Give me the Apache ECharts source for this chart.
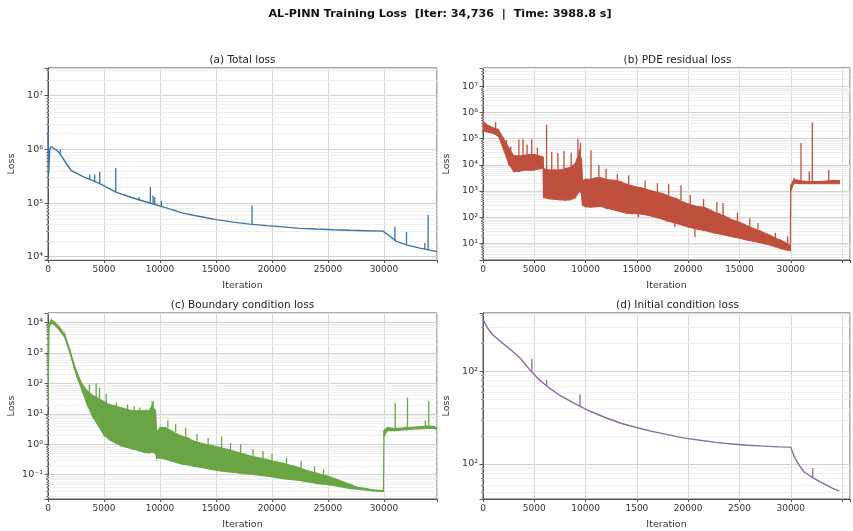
<!DOCTYPE html>
<html><head><meta charset="utf-8">
<script src="https://cdn.jsdelivr.net/npm/echarts@6/dist/echarts.min.js"></script>
<style>html,body{margin:0;padding:0;background:#fff}#c{width:853px;height:531px}</style>
</head><body><div id="c"></div>
<script>
// ---------- (a) Total loss ----------
const totalIter = [0, 60, 150, 300, 500, 800, 1040, 1640, 2090, 3130, 4620, 6110, 7600, 9090, 10570, 12060, 13550, 15040, 16530, 18010, 19500, 20990, 22480, 23960, 25450, 26940, 28430, 29920, 30520, 31110, 32000, 33200, 34736];
const totalLoss = [2.0e6, 3.5e5, 1.0e6, 1.12e6, 1.05e6, 9.5e5, 8.5e5, 5.4e5, 4.0e5, 3.1e5, 2.3e5, 1.58e5, 1.24e5, 1.0e5, 8.1e4, 6.5e4, 5.6e4, 4.9e4, 4.4e4, 4.05e4, 3.8e4, 3.6e4, 3.37e4, 3.27e4, 3.18e4, 3.1e4, 3.05e4, 3.0e4, 2.4e4, 1.93e4, 1.66e4, 1.44e4, 1.24e4];
const totalSpikeIter = [1100, 3720, 4170, 4620, 6050, 6940, 7600, 8130, 9140, 9380, 9530, 10120, 11310, 18220, 30970, 32010, 33650, 33940];
const totalSpikeBase = [8.5e5, 2.8e5, 2.5e5, 2.3e5, 1.6e5, 1.35e5, 1.24e5, 1.12e5, 1.0e5, 9.6e4, 9.4e4, 8.7e4, 7.2e4, 4.0e4, 2.0e4, 1.66e4, 1.38e4, 1.35e4];
const totalSpikePeak = [1.0e6, 3.4e5, 3.4e5, 3.8e5, 4.5e5, 1.45e5, 1.3e5, 1.3e5, 2.0e5, 1.4e5, 1.3e5, 1.1e5, 7.6e4, 9.0e4, 3.6e4, 2.9e4, 1.8e4, 6.0e4];

// ---------- (b) PDE residual loss (noise band: low / high envelope) ----------
const pdeIter = [0, 500, 1000, 1500, 2000, 2500, 3000, 3500, 4000, 4500, 5000, 5500, 5850, 5900, 6500, 7000, 7500, 8000, 8500, 9000, 9400, 9600, 9700, 10000, 10500, 11000, 11500, 12000, 12500, 13000, 13500, 14000, 14500, 15000, 15500, 16000, 16500, 17000, 17500, 18000, 18500, 19000, 19500, 20000, 20500, 21000, 21500, 22000, 22500, 23000, 23500, 24000, 24500, 25000, 25500, 26000, 26500, 27000, 27500, 28000, 28500, 29000, 29500, 29950, 30000, 30300, 31000, 32000, 33000, 34000, 34736];
const pdeLow = [1.9e5, 1.8e5, 1.6e5, 1.26e5, 4.0e4, 1.12e4, 5.6e3, 5.6e3, 6.3e3, 6.3e3, 6.3e3, 7.1e3, 7.4e3, 5.6e2, 5.0e2, 4.8e2, 4.6e2, 4.5e2, 4.6e2, 5.6e2, 1.0e3, 7.9e2, 2.8e2, 2.5e2, 2.4e2, 2.5e2, 2.6e2, 2.2e2, 2.0e2, 1.8e2, 1.6e2, 1.4e2, 1.35e2, 1.35e2, 1.3e2, 1.2e2, 1.07e2, 95, 83, 71, 63, 56, 48, 42, 38, 34, 31, 28, 25, 23, 21, 19, 17, 15.8, 14, 12.6, 11.7, 10.7, 9.5, 8.5, 7.4, 6.3, 5.6, 5.2, 1.0e3, 2.0e3, 1.9e3, 1.9e3, 1.9e3, 1.9e3, 1.9e3];
const pdeHigh = [4.5e5, 3.2e5, 2.6e5, 2.2e5, 1.0e5, 4.5e4, 2.2e4, 2.2e4, 2.3e4, 2.5e4, 2.5e4, 2.2e4, 2.0e4, 7.1e3, 6.3e3, 6.3e3, 6.3e3, 7.1e3, 7.9e3, 1.12e4, 3.2e4, 1.6e4, 2.5e3, 2.8e3, 2.8e3, 3.2e3, 3.2e3, 2.8e3, 2.6e3, 2.5e3, 2.2e3, 1.8e3, 1.6e3, 1.4e3, 1.3e3, 1.12e3, 1.0e3, 890, 790, 660, 560, 480, 380, 316, 280, 250, 240, 200, 158, 135, 112, 89, 74, 63, 52, 42, 35, 30, 24, 20, 15.8, 13.2, 10.5, 8.1, 1.6e3, 2.8e3, 2.4e3, 2.3e3, 2.3e3, 2.5e3, 2.5e3];
const pdeSpikeIter = [0, 1230, 2300, 2700, 3500, 3900, 4300, 4750, 5300, 6200, 6700, 7300, 7900, 8600, 9250, 9500, 10530, 11300, 12000, 13100, 14200, 15150, 15800, 17000, 18100, 18700, 19300, 20200, 20660, 21500, 22800, 23400, 24800, 26000, 26800, 28500, 29700, 31000, 31800, 32100, 33700];
const pdeSpikeBase = [3.2e5, 2.2e5, 5.0e4, 2.0e4, 1.8e4, 2.0e4, 2.2e4, 2.2e4, 2.0e4, 6.3e3, 6.3e3, 6.3e3, 7.0e3, 8.0e3, 2.5e4, 2.5e4, 2.8e3, 3.2e3, 2.8e3, 2.5e3, 1.8e3, 135, 1.2e3, 900, 660, 60, 450, 300, 40, 240, 150, 120, 70, 42, 35, 16, 9, 2.2e3, 2.2e3, 2.2e3, 2.2e3];
const pdeSpikePeak = [1.1e6, 4.3e5, 8.9e4, 5.0e4, 9.3e4, 9.5e4, 6.0e4, 9.5e4, 4.5e4, 3.4e5, 3.2e4, 2.8e4, 3.5e4, 3.0e4, 1.0e5, 7.0e4, 3.6e4, 9.8e3, 7.0e3, 4.5e3, 4.0e3, 100, 2.5e3, 2.0e3, 1.9e3, 42, 1.66e3, 700, 17, 500, 380, 350, 150, 90, 60, 25, 18.6, 6.8e4, 5.6e3, 4.2e5, 6.3e3];

// ---------- (c) Boundary condition loss (noise band) ----------
const bcIter = [0, 100, 300, 600, 1000, 1500, 2000, 2300, 2600, 3000, 3500, 4000, 4500, 5000, 5500, 6000, 6500, 7000, 7500, 8000, 8500, 9000, 9300, 9600, 9700, 10000, 10500, 11000, 11500, 12000, 12500, 13000, 13500, 14000, 14500, 15000, 15500, 16000, 16500, 17000, 17500, 18000, 18500, 19000, 19500, 20000, 20500, 21000, 21500, 22000, 22500, 23000, 23500, 24000, 24500, 25000, 25500, 26000, 26500, 27000, 27500, 28000, 28500, 29000, 29500, 29950, 30000, 30300, 31000, 32000, 33000, 34000, 34500, 34736];
const bcLow = [16, 7.1e3, 9.5e3, 8.3e3, 5.6e3, 3.2e3, 890, 355, 158, 63, 20, 7.9, 4.0, 2.0, 1.4, 1.12, 0.89, 0.79, 0.71, 0.63, 0.56, 0.52, 0.56, 0.5, 0.35, 0.35, 0.32, 0.28, 0.25, 0.22, 0.21, 0.19, 0.178, 0.166, 0.151, 0.141, 0.132, 0.126, 0.12, 0.115, 0.11, 0.105, 0.1, 0.095, 0.091, 0.085, 0.079, 0.074, 0.071, 0.068, 0.065, 0.06, 0.056, 0.052, 0.05, 0.047, 0.044, 0.041, 0.038, 0.035, 0.034, 0.032, 0.031, 0.0295, 0.0288, 0.0282, 1.78, 2.8, 2.8, 3.0, 3.2, 3.3, 3.3, 3.0];
const bcHigh = [5.0e3, 8.9e3, 1.2e4, 1.0e4, 7.1e3, 4.0e3, 1.12e3, 447, 224, 100, 56, 40, 32, 25, 20, 18, 16, 14, 12.6, 12.6, 12.6, 12.6, 18, 12.6, 2.5, 3.5, 3.5, 2.8, 2.2, 1.8, 1.6, 1.26, 1.12, 1.0, 0.93, 0.85, 0.76, 0.68, 0.6, 0.54, 0.48, 0.42, 0.38, 0.35, 0.32, 0.28, 0.26, 0.24, 0.21, 0.19, 0.166, 0.141, 0.126, 0.112, 0.1, 0.089, 0.076, 0.066, 0.056, 0.048, 0.04, 0.037, 0.035, 0.032, 0.031, 0.03, 2.8, 3.5, 3.3, 3.5, 3.7, 4.0, 3.8, 3.3];
const bcSpikeIter = [3700, 4300, 4600, 5200, 6100, 7100, 7700, 8200, 8700, 9300, 9400, 10700, 11400, 12300, 13300, 14300, 15500, 16300, 17200, 18300, 19200, 20000, 21300, 22600, 23800, 24600, 31000, 32100, 33700, 34000];
const bcSpikeBase = [40, 35, 32, 22, 16, 14, 12.6, 12.6, 12.6, 18, 16, 3.5, 2.5, 1.7, 1.2, 1.0, 0.76, 0.65, 0.5, 0.4, 0.33, 0.28, 0.22, 0.16, 0.12, 0.1, 3.2, 3.3, 3.7, 3.8];
const bcSpikePeak = [89, 100, 71, 45, 23, 20, 18, 16, 14, 26, 25, 6.0, 4.5, 3.5, 2.2, 1.6, 1.78, 1.1, 1.0, 0.7, 0.6, 0.5, 0.36, 0.28, 0.19, 0.15, 23, 34, 6.0, 26];

// ---------- (d) Initial condition loss ----------
const icIter = [0, 460, 920, 1840, 2760, 3680, 4600, 5530, 6450, 7370, 8900, 10440, 11970, 13510, 15040, 16580, 18110, 19650, 21180, 22720, 24250, 25790, 27320, 28860, 30000, 30390, 30850, 31310, 32240, 33160, 34050, 34736];
const icLoss = [361, 290, 248, 203, 168, 136, 102, 80, 66, 56, 45, 37, 31.5, 27.3, 24.6, 22.3, 20.6, 19.0, 18.0, 17.1, 16.4, 15.9, 15.6, 15.3, 15.2, 11.7, 9.6, 8.2, 7.0, 6.2, 5.5, 5.1];
const icSpikeIter = [4760, 6200, 9460, 32140];
const icSpikeBase = [99, 69, 42, 7.1];
const icSpikePeak = [136, 80, 56, 9.0];

// ---------- tick labels ----------
const xTicksA = ['0', '5000', '10000', '15000', '20000', '25000', '30000'];
const xTicksB = ['0', '5000', '10000', '15000', '20000', '15000', '30000'];
const xTicksC = ['0', '5000', '10000', '15000', '20000', '25000', '30000'];
const xTicksD = ['0', '5000', '10000', '1500', '20000', '2500', '30000'];
const yTicksD = {'2': '10²', '1': '10²'};

const titleMain = 'AL-PINN Training Loss  [Iter: 34,736  |  Time: 3988.8 s]';
const panelTitles = ['(a) Total loss', '(b) PDE residual loss', '(c) Boundary condition loss', '(d) Initial condition loss'];
const colors = ['#3a74a8', '#c0503e', '#6aa545', '#8a6c9e'];

// ---------- layout ----------
const grids = [
  {left: 48, top: 68, width: 389, height: 192},
  {left: 483, top: 68, width: 389, height: 192},
  {left: 48, top: 313, width: 389, height: 191},
  {left: 483, top: 313, width: 389, height: 191}
];
const xMax = [34736, 35775, 34736, 35775];
const yRange = [[8670, 3.29e7], [2.29, 5.07e7], [0.016, 2.02e4], [4.2, 423]];
const xTicks = [xTicksA, xTicksB, xTicksC, xTicksD];

const FONT = 'DejaVu Sans';
const supMap = {'-': '⁻', '0': '⁰', '1': '¹', '2': '²', '3': '³', '4': '⁴', '5': '⁵', '6': '⁶', '7': '⁷', '8': '⁸', '9': '⁹'};
function sup(n) { return String(n).split('').map(c => supMap[c]).join(''); }

function yFormatter(i) {
  return function (v) {
    const e = Math.log10(v), r = Math.round(e);
    if (Math.abs(e - r) > 1e-6) return '';
    if (i === 3) return yTicksD[String(r)] || '';
    return '10' + sup(r);
  };
}
function xFormatter(i) {
  return function (v) {
    const k = Math.round(v / 5000);
    if (Math.abs(v - k * 5000) > 1e-6) return '';
    return xTicks[i][k] !== undefined ? xTicks[i][k] : '';
  };
}
function minorValues(r) {
  const out = [];
  for (let n = Math.floor(Math.log10(r[0])); n <= Math.ceil(Math.log10(r[1])); n++) {
    for (let k = 2; k <= 9; k++) {
      const v = k * Math.pow(10, n);
      if (v > r[0] && v < r[1]) out.push(v);
    }
  }
  return out;
}

const xAxes = [], yAxes = [], series = [];
grids.forEach((g, i) => {
  xAxes.push({
    type: 'value', gridIndex: i, min: 0, max: xMax[i], interval: 5000,
    name: 'Iteration', nameLocation: 'middle', nameGap: 21,
    nameTextStyle: {fontFamily: FONT, fontSize: 9.5, color: '#333'},
    axisLine: {show: true, lineStyle: {color: '#555', width: 1}},
    axisTick: {show: true, length: 3, lineStyle: {color: '#555'}},
    axisLabel: {fontFamily: FONT, fontSize: 9, color: '#333', margin: 5, formatter: xFormatter(i)},
    splitLine: {show: true, lineStyle: {color: '#d6d6d6', width: 1}}
  });
  yAxes.push({
    type: 'log', gridIndex: i, min: yRange[i][0], max: yRange[i][1], logBase: 10,
    name: 'Loss', nameLocation: 'middle', nameGap: 31,
    nameTextStyle: {fontFamily: FONT, fontSize: 9.5, color: '#333'},
    axisLine: {show: true, lineStyle: {color: '#555', width: 1}},
    axisTick: {show: true, length: 3.5, lineStyle: {color: '#555'}},
    axisLabel: {fontFamily: FONT, fontSize: 9.5, color: '#333', margin: 5, formatter: yFormatter(i)},
    splitLine: {show: true, lineStyle: {color: '#d2d2d2', width: 1}}
  });
  // minor log grid lines + minor ticks, drawn beneath the data
  series.push({
    type: 'custom', xAxisIndex: i, yAxisIndex: i, z: 1, silent: true, animation: false, clip: false,
    data: minorValues(yRange[i]).map(v => [0, v]),
    encode: {x: 0, y: 1},
    renderItem: function (params, api) {
      const cs = params.coordSys;
      const y = Math.round(api.coord([0, api.value(1)])[1]) + 0.5;
      return {type: 'group', children: [
        {type: 'line', shape: {x1: cs.x, y1: y, x2: cs.x + cs.width, y2: y}, style: {stroke: '#ececec', lineWidth: 0.8}},
        {type: 'line', shape: {x1: cs.x - 2, y1: y, x2: cs.x, y2: y}, style: {stroke: '#777', lineWidth: 0.8}}
      ]};
    }
  });
});

function zip(a, b) { return a.map((x, k) => [x, b[k]]); }
function lineSeries(i, xs, ys) {
  return {type: 'line', xAxisIndex: i, yAxisIndex: i, data: zip(xs, ys), showSymbol: false, symbol: 'none',
    lineStyle: {color: colors[i], width: 1.4}, z: 3, animation: false, clip: true};
}
function spikeSeries(i, xs, base, peak) {
  return {
    type: 'custom', xAxisIndex: i, yAxisIndex: i, z: 4, animation: false, clip: true,
    data: xs.map((x, k) => [x, base[k], peak[k]]),
    encode: {x: 0, y: [1, 2]},
    renderItem: function (params, api) {
      const p0 = api.coord([api.value(0), api.value(1)]);
      const p1 = api.coord([api.value(0), api.value(2)]);
      return {type: 'line', shape: {x1: p0[0], y1: p0[1], x2: p1[0], y2: p1[1]},
        style: {stroke: colors[i], lineWidth: 1.3}};
    }
  };
}
function bandSeries(i, xs, lo, hi) {
  const segs = [];
  for (let k = 0; k < xs.length - 1; k++) segs.push([xs[k], lo[k], hi[k], xs[k + 1], lo[k + 1], hi[k + 1]]);
  return {
    type: 'custom', xAxisIndex: i, yAxisIndex: i, z: 3, animation: false, clip: true,
    data: segs,
    encode: {x: [0, 3], y: [1, 2, 4, 5]},
    renderItem: function (params, api) {
      const a = api.coord([api.value(0), api.value(1)]);
      const b = api.coord([api.value(0), api.value(2)]);
      const c = api.coord([api.value(3), api.value(5)]);
      const d = api.coord([api.value(3), api.value(4)]);
      return {type: 'polygon', shape: {points: [a, b, c, d]},
        style: {fill: colors[i], stroke: colors[i], lineWidth: 1.1}};
    }
  };
}

series.push(lineSeries(0, totalIter, totalLoss));
series.push(spikeSeries(0, totalSpikeIter, totalSpikeBase, totalSpikePeak));
series.push(bandSeries(1, pdeIter, pdeLow, pdeHigh));
series.push(spikeSeries(1, pdeSpikeIter, pdeSpikeBase, pdeSpikePeak));
series.push(bandSeries(2, bcIter, bcLow, bcHigh));
series.push(spikeSeries(2, bcSpikeIter, bcSpikeBase, bcSpikePeak));
series.push(lineSeries(3, icIter, icLoss));
series.push(spikeSeries(3, icSpikeIter, icSpikeBase, icSpikePeak));

const graphics = [
  {type: 'text', x: 440, y: 14, style: {text: titleMain, align: 'center', verticalAlign: 'middle',
    font: 'bold 11.2px "DejaVu Sans"', fill: '#111'}}
];
grids.forEach((g, i) => {
  graphics.push({type: 'text', x: g.left + g.width / 2, y: g.top - 8,
    style: {text: panelTitles[i], align: 'center', verticalAlign: 'middle', font: '10.5px "DejaVu Sans"', fill: '#222'}});
});

const chart = echarts.init(document.getElementById('c'), null, {renderer: 'canvas'});
chart.setOption({
  backgroundColor: '#ffffff',
  animation: false,
  grid: grids.map(g => Object.assign({show: true, borderColor: '#555', borderWidth: 1, backgroundColor: 'transparent', containLabel: false}, g)),
  xAxis: xAxes,
  yAxis: yAxes,
  series: series,
  graphic: graphics
});
</script>
</body></html>
